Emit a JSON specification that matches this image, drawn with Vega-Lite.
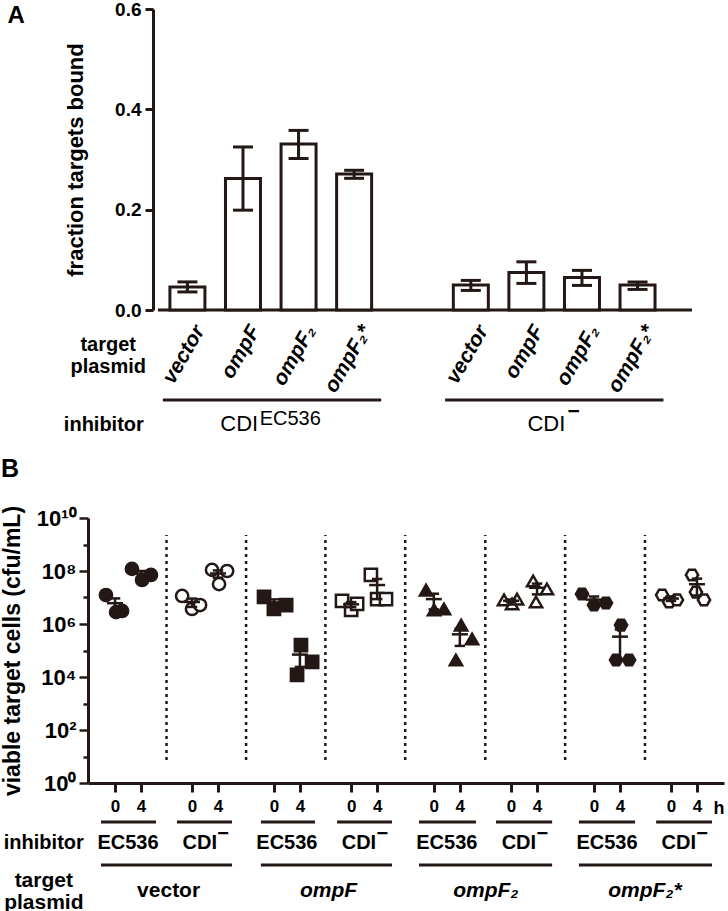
{
  "$schema": "https://vega.github.io/schema/vega-lite/v6.json",
  "padding": 0,
  "background": "white",
  "spacing": 21,
  "config": {"view": {"stroke": null}, "font": "Liberation Sans", "text": {"font": "Liberation Sans", "color": "#000"}},
  "datasets": {
    "barsA": [
      {"plasmid": "vector", "inhibitor": "CDI EC536", "x": 1, "y": 0.046},
      {"plasmid": "ompF", "inhibitor": "CDI EC536", "x": 2, "y": 0.262},
      {"plasmid": "ompF2", "inhibitor": "CDI EC536", "x": 3, "y": 0.331},
      {"plasmid": "ompF2*", "inhibitor": "CDI EC536", "x": 4, "y": 0.271},
      {"plasmid": "vector", "inhibitor": "CDI-", "x": 6.1, "y": 0.0498},
      {"plasmid": "ompF", "inhibitor": "CDI-", "x": 7.1, "y": 0.075},
      {"plasmid": "ompF2", "inhibitor": "CDI-", "x": 8.1, "y": 0.065},
      {"plasmid": "ompF2*", "inhibitor": "CDI-", "x": 9.1, "y": 0.0498}
    ],
    "errA": [
      {"x": 1, "y": 0.036, "y2": 0.056}, {"x": 2, "y": 0.199, "y2": 0.325}, {"x": 3, "y": 0.302, "y2": 0.358}, {"x": 4, "y": 0.2625, "y2": 0.2785},
      {"x": 6.1, "y": 0.039, "y2": 0.059}, {"x": 7.1, "y": 0.053, "y2": 0.096}, {"x": 8.1, "y": 0.049, "y2": 0.079}, {"x": 9.1, "y": 0.041, "y2": 0.0558}
    ],
    "capsA": [
      {"x": 1, "y": 0.036}, {"x": 1, "y": 0.056}, {"x": 2, "y": 0.199}, {"x": 2, "y": 0.325}, {"x": 3, "y": 0.302}, {"x": 3, "y": 0.358}, {"x": 4, "y": 0.2625}, {"x": 4, "y": 0.2785},
      {"x": 6.1, "y": 0.039}, {"x": 6.1, "y": 0.059}, {"x": 7.1, "y": 0.053}, {"x": 7.1, "y": 0.096}, {"x": 8.1, "y": 0.049}, {"x": 8.1, "y": 0.079}, {"x": 9.1, "y": 0.041}, {"x": 9.1, "y": 0.0558}
    ],
    "ptsB": [
      {"p": "vector", "i": "EC536", "h": 0, "x": 0.69, "y": 1.24e7}, {"p": "vector", "i": "EC536", "h": 0, "x": 1.08, "y": 2.8e6}, {"p": "vector", "i": "EC536", "h": 0, "x": 1.31, "y": 3.1e6},
      {"p": "vector", "i": "EC536", "h": 4, "x": 1.69, "y": 1.2e8}, {"p": "vector", "i": "EC536", "h": 4, "x": 2.08, "y": 4.6e7}, {"p": "vector", "i": "EC536", "h": 4, "x": 2.42, "y": 7.1e7},
      {"p": "vector", "i": "CDI-", "h": 0, "x": 3.62, "y": 1.14e7}, {"p": "vector", "i": "CDI-", "h": 0, "x": 4.0, "y": 3.7e6}, {"p": "vector", "i": "CDI-", "h": 0, "x": 4.31, "y": 5.2e6},
      {"p": "vector", "i": "CDI-", "h": 4, "x": 4.77, "y": 1.1e8}, {"p": "vector", "i": "CDI-", "h": 4, "x": 5.35, "y": 1.0e8}, {"p": "vector", "i": "CDI-", "h": 4, "x": 5.04, "y": 3.2e7},
      {"p": "ompF", "i": "EC536", "h": 0, "x": 6.77, "y": 1.05e7}, {"p": "ompF", "i": "EC536", "h": 0, "x": 7.15, "y": 3.7e6}, {"p": "ompF", "i": "EC536", "h": 0, "x": 7.62, "y": 5.2e6},
      {"p": "ompF", "i": "EC536", "h": 4, "x": 8.19, "y": 1.6e5}, {"p": "ompF", "i": "EC536", "h": 4, "x": 8.62, "y": 3.7e4}, {"p": "ompF", "i": "EC536", "h": 4, "x": 8.04, "y": 1.2e4},
      {"p": "ompF", "i": "CDI-", "h": 0, "x": 9.77, "y": 7.4e6}, {"p": "ompF", "i": "CDI-", "h": 0, "x": 10.12, "y": 3.4e6}, {"p": "ompF", "i": "CDI-", "h": 0, "x": 10.35, "y": 5.7e6},
      {"p": "ompF", "i": "CDI-", "h": 4, "x": 10.88, "y": 7.1e7}, {"p": "ompF", "i": "CDI-", "h": 4, "x": 11.12, "y": 8.7e6}, {"p": "ompF", "i": "CDI-", "h": 4, "x": 11.46, "y": 8.7e6},
      {"p": "ompF2", "i": "EC536", "h": 0, "x": 13.0, "y": 1.9e7}, {"p": "ompF2", "i": "EC536", "h": 0, "x": 13.31, "y": 3.4e6}, {"p": "ompF2", "i": "EC536", "h": 0, "x": 13.69, "y": 3.7e6},
      {"p": "ompF2", "i": "EC536", "h": 4, "x": 14.35, "y": 9.1e5}, {"p": "ompF2", "i": "EC536", "h": 4, "x": 14.77, "y": 2.7e5}, {"p": "ompF2", "i": "EC536", "h": 4, "x": 14.15, "y": 4.4e4},
      {"p": "ompF2", "i": "CDI-", "h": 0, "x": 16.0, "y": 8.1e6}, {"p": "ompF2", "i": "CDI-", "h": 0, "x": 16.31, "y": 5.7e6}, {"p": "ompF2", "i": "CDI-", "h": 0, "x": 16.5, "y": 8.7e6},
      {"p": "ompF2", "i": "CDI-", "h": 4, "x": 17.12, "y": 4.2e7}, {"p": "ompF2", "i": "CDI-", "h": 4, "x": 17.65, "y": 2.1e7}, {"p": "ompF2", "i": "CDI-", "h": 4, "x": 17.23, "y": 6.8e6},
      {"p": "ompF2s", "i": "EC536", "h": 0, "x": 19.0, "y": 1.35e7}, {"p": "ompF2s", "i": "EC536", "h": 0, "x": 19.46, "y": 5.2e6}, {"p": "ompF2s", "i": "EC536", "h": 0, "x": 19.92, "y": 6.2e6},
      {"p": "ompF2s", "i": "EC536", "h": 4, "x": 20.5, "y": 9.1e5}, {"p": "ompF2s", "i": "EC536", "h": 4, "x": 20.31, "y": 4.4e4}, {"p": "ompF2s", "i": "EC536", "h": 4, "x": 20.81, "y": 4.4e4},
      {"p": "ompF2s", "i": "CDI-", "h": 0, "x": 22.08, "y": 1.24e7}, {"p": "ompF2s", "i": "CDI-", "h": 0, "x": 22.35, "y": 6.8e6}, {"p": "ompF2s", "i": "CDI-", "h": 0, "x": 22.65, "y": 8.1e6},
      {"p": "ompF2s", "i": "CDI-", "h": 4, "x": 23.23, "y": 7.1e7}, {"p": "ompF2s", "i": "CDI-", "h": 4, "x": 23.38, "y": 1.6e7}, {"p": "ompF2s", "i": "CDI-", "h": 4, "x": 23.69, "y": 8.1e6}
    ],
    "meanB": [
      {"x": 1.04, "y": 6.1e6}, {"x": 2.04, "y": 7.9e7}, {"x": 4.0, "y": 6.77e6}, {"x": 5.0, "y": 8.07e7},
      {"x": 7.15, "y": 6.47e6}, {"x": 8.15, "y": 7.0e4}, {"x": 10.12, "y": 5.5e6}, {"x": 11.12, "y": 2.95e7},
      {"x": 13.3, "y": 8.7e6}, {"x": 14.3, "y": 4.08e5}, {"x": 16.27, "y": 7.5e6}, {"x": 17.27, "y": 2.33e7},
      {"x": 19.46, "y": 8.3e6}, {"x": 20.46, "y": 3.33e5}, {"x": 22.42, "y": 9.1e6}, {"x": 23.42, "y": 3.17e7}
    ],
    "errB": [
      {"x": 1.04, "y": 2.95e6, "y2": 9.25e6}, {"x": 2.04, "y": 5.7e7, "y2": 1.0e8}, {"x": 4.0, "y": 4.4e6, "y2": 9.1e6}, {"x": 5.0, "y": 5.6e7, "y2": 1.05e8},
      {"x": 7.15, "y": 4.4e6, "y2": 8.5e6}, {"x": 8.15, "y": 2.4e4, "y2": 1.16e5}, {"x": 10.12, "y": 4.3e6, "y2": 6.7e6}, {"x": 11.12, "y": 8.7e6, "y2": 5.0e7},
      {"x": 13.3, "y": 3.55e6, "y2": 1.39e7}, {"x": 14.3, "y": 1.49e5, "y2": 6.67e5}, {"x": 16.27, "y": 6.6e6, "y2": 8.4e6}, {"x": 17.27, "y": 1.31e7, "y2": 3.35e7},
      {"x": 19.46, "y": 5.7e6, "y2": 1.09e7}, {"x": 20.46, "y": 4.4e4, "y2": 6.2e5}, {"x": 22.42, "y": 7.4e6, "y2": 1.08e7}, {"x": 23.42, "y": 1.19e7, "y2": 5.15e7}
    ],
    "capsB": [
      {"x": 1.04, "y": 2.95e6}, {"x": 1.04, "y": 9.25e6}, {"x": 2.04, "y": 5.7e7}, {"x": 2.04, "y": 1.0e8}, {"x": 4.0, "y": 4.4e6}, {"x": 4.0, "y": 9.1e6}, {"x": 5.0, "y": 5.6e7}, {"x": 5.0, "y": 1.05e8},
      {"x": 7.15, "y": 4.4e6}, {"x": 7.15, "y": 8.5e6}, {"x": 8.15, "y": 2.4e4}, {"x": 8.15, "y": 1.16e5}, {"x": 10.12, "y": 4.3e6}, {"x": 10.12, "y": 6.7e6}, {"x": 11.12, "y": 8.7e6}, {"x": 11.12, "y": 5.0e7},
      {"x": 13.3, "y": 3.55e6}, {"x": 13.3, "y": 1.39e7}, {"x": 14.3, "y": 1.49e5}, {"x": 14.3, "y": 6.67e5}, {"x": 16.27, "y": 6.6e6}, {"x": 16.27, "y": 8.4e6}, {"x": 17.27, "y": 1.31e7}, {"x": 17.27, "y": 3.35e7},
      {"x": 19.46, "y": 5.7e6}, {"x": 19.46, "y": 1.09e7}, {"x": 20.46, "y": 4.4e4}, {"x": 20.46, "y": 6.2e5}, {"x": 22.42, "y": 7.4e6}, {"x": 22.42, "y": 1.08e7}, {"x": 23.42, "y": 1.19e7}, {"x": 23.42, "y": 5.15e7}
    ]
  },
  "vconcat": [
    {
      "width": 609,
      "height": 301,
      "encoding": {
        "x": {"field": "x", "type": "quantitative", "scale": {"domain": [-0.699, 10.08], "nice": false, "zero": false},
          "axis": {"values": [1, 2, 3, 4, 6.1, 7.1, 8.1, 9.1], "labelExpr": "['vector','ompF','ompF₂','ompF₂*'][indexof([1,2,3,4,6.1,7.1,8.1,9.1], datum.value) % 4]",
            "domain": false, "ticks": false, "tickSize": 0, "grid": false, "title": null, "labelAngle": -60, "labelAlign": "right", "labelBaseline": "middle",
            "labelFontSize": 21, "labelFontWeight": "bold", "labelFontStyle": "italic", "labelColor": "#000", "labelPadding": 17, "labelOffset": 12,
            "labelOverlap": false, "labelFlush": false, "labelBound": false}},
        "y": {"field": "y", "type": "quantitative", "scale": {"domain": [0, 0.6], "nice": false, "zero": false},
          "axis": {"values": [0, 0.2, 0.4, 0.6], "format": ".1f", "offset": -65, "domainWidth": 3, "domainColor": "#231815", "tickWidth": 3, "tickColor": "#231815", "tickSize": 8,
            "labelFontSize": 19, "labelFontWeight": "bold", "labelColor": "#000", "labelPadding": 4, "grid": false, "labelOverlap": false, "labelFlush": false,
            "title": "fraction targets bound", "titleFontSize": 22, "titleFontWeight": "bold", "titleColor": "#000", "titlePadding": 27}}
      },
      "layer": [
        {
          "data": {"values": [
            {"x": 0.469, "x2": 10.08, "y": 0},
            {"x": 0.558, "x2": 4.487, "y": -0.1794},
            {"x": 5.637, "x2": 9.566, "y": -0.1794}
          ]},
          "mark": {"type": "rule", "stroke": "#231815", "strokeWidth": 3},
          "encoding": {"x2": {"field": "x2"}}
        },
        {
          "data": {"name": "barsA"},
          "mark": {"type": "bar", "fill": "#ffffff", "stroke": "#231815", "strokeWidth": 3, "width": 35},
          "encoding": {}
        },
        {
          "data": {"name": "errA"},
          "mark": {"type": "rule", "stroke": "#231815", "strokeWidth": 3},
          "encoding": {"y2": {"field": "y2"}}
        },
        {
          "data": {"name": "capsA"},
          "mark": {"type": "point", "shape": "M-1,0L1,0", "size": 400, "filled": false, "stroke": "#231815", "strokeWidth": 3, "opacity": 1},
          "encoding": {}
        },
        {
          "data": {"values": [
            {"x": -0.425, "y": -0.0817, "t": "target"},
            {"x": -0.425, "y": -0.1256, "t": "plasmid"},
            {"x": -0.504, "y": -0.2412, "t": "inhibitor"}
          ]},
          "mark": {"type": "text", "fontSize": 20, "fontWeight": "bold", "align": "center", "baseline": "alphabetic"},
          "encoding": {"text": {"field": "t"}}
        },
        {
          "data": {"values": [{"x": -2.239, "y": 0.572, "t": "A"}]},
          "mark": {"type": "text", "fontSize": 24, "fontWeight": "bold", "align": "left", "baseline": "alphabetic"},
          "encoding": {"text": {"field": "t"}}
        },
        {
          "data": {"values": [{"x": 2.274, "y": -0.2412, "t": "CDI"}]},
          "mark": {"type": "text", "fontSize": 22, "fontWeight": "normal", "align": "right", "baseline": "alphabetic"},
          "encoding": {"text": {"field": "t"}}
        },
        {
          "data": {"values": [{"x": 2.3, "y": -0.2292, "t": "EC536"}]},
          "mark": {"type": "text", "fontSize": 20, "fontWeight": "normal", "align": "left", "baseline": "alphabetic"},
          "encoding": {"text": {"field": "t"}}
        },
        {
          "data": {"values": [{"x": 7.46, "y": -0.2412, "t": "CDI"}]},
          "mark": {"type": "text", "fontSize": 22, "fontWeight": "normal", "align": "center", "baseline": "alphabetic"},
          "encoding": {"text": {"field": "t"}}
        },
        {
          "data": {"values": [{"x": 7.95, "y": -0.2033, "t": "−"}]},
          "mark": {"type": "text", "fontSize": 21, "fontWeight": "bold", "align": "center", "baseline": "middle"},
          "encoding": {"text": {"field": "t"}}
        }
      ]
    },
    {
      "width": 636,
      "height": 265,
      "encoding": {
        "x": {"field": "x", "type": "quantitative", "scale": {"domain": [0, 24.46], "nice": false, "zero": false},
          "axis": {"values": [1.04, 2.04, 4, 5, 7.15, 8.15, 10.12, 11.12, 13.3, 14.3, 16.27, 17.27, 19.46, 20.46, 22.42, 23.42],
            "labelExpr": "indexof([2.04,5,8.15,11.12,14.3,17.27,20.46,23.42], datum.value) >= 0 ? '4' : '0'",
            "domainWidth": 3, "domainColor": "#231815", "tickWidth": 3, "tickColor": "#231815", "tickSize": 9, "grid": false, "title": null,
            "labelFontSize": 17, "labelFontWeight": "bold", "labelColor": "#000", "labelPadding": 6, "labelOverlap": false, "labelFlush": false}},
        "y": {"field": "y", "type": "quantitative", "scale": {"type": "log", "domain": [1, 1e10], "nice": false},
          "axis": {"values": [1, 10, 100, 1000, 10000, 100000, 1000000, 10000000, 100000000, 1000000000, 10000000000],
            "labelExpr": "(round(log(datum.value)/LN10) % 2 == 0) ? '10' + ['⁰','¹','²','³','⁴','⁵','⁶','⁷','⁸','⁹','¹⁰'][round(log(datum.value)/LN10)] : ''",
            "tickSize": {"condition": {"test": "round(log(datum.value)/LN10) % 2 == 0", "value": 9}, "value": 5},
            "domainWidth": 3, "domainColor": "#231815", "tickWidth": 2.5, "tickColor": "#231815", "grid": false,
            "labelFontSize": 22, "labelFontWeight": "bold", "labelColor": "#000", "labelPadding": 3, "labelOverlap": false, "labelFlush": false,
            "title": "viable target cells (cfu/mL)", "titleFontSize": 23, "titleFontWeight": "bold", "titleColor": "#000", "titlePadding": 12}}
      },
      "layer": [
        {
          "data": {"values": [
            {"x": 3.02, "y": 7.38, "y2": 2.28e9}, {"x": 6.08, "y": 7.38, "y2": 2.28e9}, {"x": 9.13, "y": 7.38, "y2": 2.28e9},
            {"x": 12.2, "y": 7.38, "y2": 2.28e9}, {"x": 15.28, "y": 7.38, "y2": 2.28e9}, {"x": 18.35, "y": 7.38, "y2": 2.28e9},
            {"x": 21.42, "y": 7.38, "y2": 2.28e9}
          ]},
          "mark": {"type": "rule", "stroke": "#231815", "strokeWidth": 2.5, "strokeDash": [3, 4]},
          "encoding": {"y2": {"field": "y2"}}
        },
        {
          "data": {"name": "ptsB"},
          "mark": {"type": "point", "filled": true, "stroke": "#231815", "strokeWidth": 2.5, "size": 150, "opacity": 1},
          "encoding": {
            "shape": {"field": "p", "type": "nominal", "scale": {"domain": ["vector", "ompF", "ompF2", "ompF2s"], "range": ["circle", "square", "triangle-up", "M-1,0L-0.5,-0.866L0.5,-0.866L1,0L0.5,0.866L-0.5,0.866Z"]}, "legend": null},
            "fill": {"field": "i", "type": "nominal", "scale": {"domain": ["EC536", "CDI-"], "range": ["#231815", "#ffffff"]}, "legend": null}
          }
        },
        {
          "data": {"name": "errB"},
          "mark": {"type": "rule", "stroke": "#231815", "strokeWidth": 2.5},
          "encoding": {"y2": {"field": "y2"}}
        },
        {
          "data": {"name": "meanB"},
          "mark": {"type": "point", "shape": "M-1,0L1,0", "size": 256, "filled": false, "stroke": "#231815", "strokeWidth": 2.5, "opacity": 1},
          "encoding": {}
        },
        {
          "data": {"name": "capsB"},
          "mark": {"type": "point", "shape": "M-1,0L1,0", "size": 110, "filled": false, "stroke": "#231815", "strokeWidth": 2.5, "opacity": 1},
          "encoding": {}
        },
        {
          "data": {"values": [
            {"x": 0.5, "x2": 2.615, "y": 0.0338}, {"x": 3.42, "x2": 5.54, "y": 0.0338}, {"x": 6.65, "x2": 8.73, "y": 0.0338}, {"x": 9.58, "x2": 11.69, "y": 0.0338},
            {"x": 12.73, "x2": 14.92, "y": 0.0338}, {"x": 15.69, "x2": 17.85, "y": 0.0338}, {"x": 18.88, "x2": 21.04, "y": 0.0338}, {"x": 21.85, "x2": 24.0, "y": 0.0338},
            {"x": 0.5, "x2": 5.54, "y": 0.000805}, {"x": 6.65, "x2": 11.69, "y": 0.000805}, {"x": 12.73, "x2": 17.85, "y": 0.000805}, {"x": 18.88, "x2": 24.0, "y": 0.000805}
          ]},
          "mark": {"type": "rule", "stroke": "#231815", "strokeWidth": 3},
          "encoding": {"x2": {"field": "x2"}}
        },
        {
          "data": {"values": [
            {"x": -1.7, "y": 0.00332, "t": "inhibitor"},
            {"x": 1.54, "y": 0.00332, "t": "EC536"}, {"x": 7.65, "y": 0.00332, "t": "EC536"}, {"x": 13.8, "y": 0.00332, "t": "EC536"}, {"x": 19.96, "y": 0.00332, "t": "EC536"},
            {"x": 4.3, "y": 0.00332, "t": "CDI"}, {"x": 10.42, "y": 0.00332, "t": "CDI"}, {"x": 16.57, "y": 0.00332, "t": "CDI"}, {"x": 22.72, "y": 0.00332, "t": "CDI"}
          ]},
          "mark": {"type": "text", "fontSize": 20, "fontWeight": "bold", "align": "center", "baseline": "alphabetic"},
          "encoding": {"text": {"field": "t"}}
        },
        {
          "data": {"values": [
            {"x": 5.2, "y": 0.0119, "t": "−"}, {"x": 11.32, "y": 0.0119, "t": "−"}, {"x": 17.47, "y": 0.0119, "t": "−"}, {"x": 23.62, "y": 0.0119, "t": "−"}
          ]},
          "mark": {"type": "text", "fontSize": 20, "fontWeight": "bold", "align": "center", "baseline": "middle"},
          "encoding": {"text": {"field": "t"}}
        },
        {
          "data": {"values": [
            {"x": -1.7, "y": 0.000119, "t": "target"}, {"x": -1.7, "y": 0.0000181, "t": "plasmid"}, {"x": 3.1, "y": 0.0000499, "t": "vector"}
          ]},
          "mark": {"type": "text", "fontSize": 21, "fontWeight": "bold", "align": "center", "baseline": "alphabetic"},
          "encoding": {"text": {"field": "t"}}
        },
        {
          "data": {"values": [
            {"x": 9.25, "y": 0.0000499, "t": "ompF"}, {"x": 15.3, "y": 0.0000499, "t": "ompF₂"}, {"x": 21.42, "y": 0.0000499, "t": "ompF₂*"}
          ]},
          "mark": {"type": "text", "fontSize": 21, "fontWeight": "bold", "fontStyle": "italic", "align": "center", "baseline": "alphabetic"},
          "encoding": {"text": {"field": "t"}}
        },
        {
          "data": {"values": [{"x": 24.27, "y": 0.0695, "t": "h"}]},
          "mark": {"type": "text", "fontSize": 18, "fontWeight": "bold", "align": "center", "baseline": "alphabetic"},
          "encoding": {"text": {"field": "t"}}
        },
        {
          "data": {"values": [{"x": -3.346, "y": 3.52e11, "t": "B"}]},
          "mark": {"type": "text", "fontSize": 25, "fontWeight": "bold", "align": "left", "baseline": "alphabetic"},
          "encoding": {"text": {"field": "t"}}
        }
      ]
    }
  ]
}
